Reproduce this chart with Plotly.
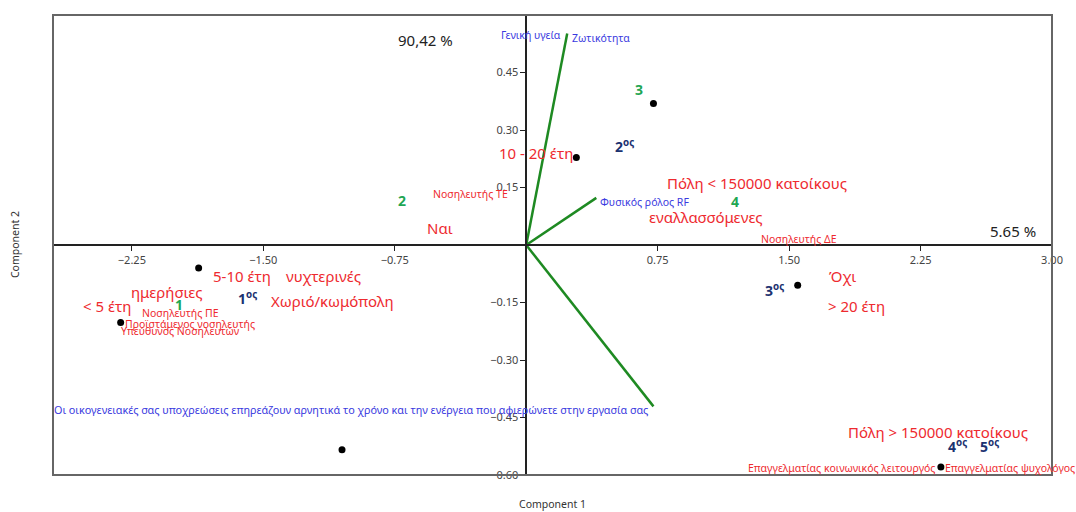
import plotly.graph_objects as go

# ---- data ----
score_x = [0.726, 0.286, -1.869, -2.314, -1.051, 1.549, 2.366]
score_y = [0.369, 0.228, -0.060, -0.202, -0.534, -0.105, -0.579]

vector_x = [0.234, 0.400, 0.726]
vector_y = [0.552, 0.123, -0.421]

blue_labels = ["Γενική υγεία", "Ζωτικότητα", "Φυσικός ρόλος RF",
               "Οι οικογενειακές σας υποχρεώσεις επηρεάζουν αρνητικά το χρόνο και την ενέργεια που αφιερώνετε στην εργασία σας"]
blue_x = [0.211, 0.251, 0.411, 0.709]
blue_y = [0.547, 0.539, 0.113, -0.429]
blue_anchor = ["right", "left", "left", "right"]
blue_size = [10.5, 10.5, 10.5, 10.8]

big_red = ["10 - 20 έτη", "Ναι", "Πόλη < 150000 κατοίκους", "εναλλασσόμενες", "5-10 έτη",
           "νυχτερινές", "ημερήσιες", "Χωριό/κωμόπολη", "< 5 έτη", "Όχι", "> 20 έτη",
           "Πόλη > 150000 κατοίκους"]
big_red_x = [0.054, -0.491, 1.314, 1.023, -1.623, -1.154, -2.051, -1.103, -2.394, 1.806, 1.886, 2.349]
big_red_y = [0.241, 0.045, 0.162, 0.073, -0.081, -0.081, -0.123, -0.147, -0.160, -0.081, -0.160, -0.487]

small_red = ["Νοσηλευτής ΤΕ", "Νοσηλευτής ΔΕ", "Νοσηλευτής ΠΕ", "Προϊστάμενος νοσηλευτής",
             "Υπεύθυνος Νοσηλευτών", "Επαγγελματίας κοινωνικός λειτουργός", "Επαγγελματίας ψυχολόγος"]
small_red_x = [-0.320, 1.554, -1.971, -1.920, -1.971, 1.800, 2.760]
small_red_y = [0.134, 0.016, -0.178, -0.207, -0.225, -0.581, -0.581]

cluster_labels = ["1", "2", "3", "4"]
cluster_x = [-1.983, -0.709, 0.646, 1.194]
cluster_y = [-0.154, 0.115, 0.406, 0.113]

rank_labels = ["1", "2", "3", "4", "5"]
rank_x = [-1.589, 0.560, 1.417, 2.463, 2.646]
rank_y = [-0.139, 0.257, -0.118, -0.524, -0.524]

pct_labels = ["90,42 %", "5.65 %"]
pct_x = [-0.577, 2.777]
pct_y = [0.534, 0.037]

x_ticks = [-2.25, -1.50, -0.75, 0.75, 1.50, 2.25, 3.00]
y_ticks = [0.45, 0.30, 0.15, -0.15, -0.30, -0.45, -0.60]
x_range = [-2.70, 3.00]
y_range = [-0.60, 0.60]

FONT = "Noto Sans"
RED = "#ee2a2f"
BLUE = "#3a3ae0"
GREEN_TXT = "#1fa653"
NAVY = "#1c3270"
LINE_GREEN = "#1e8a22"

fig = go.Figure()

vx, vy = [], []
for a, b in zip(vector_x, vector_y):
    vx += [0, a, None]
    vy += [0, b, None]
fig.add_trace(go.Scatter(x=vx, y=vy, mode="lines",
                         line=dict(color=LINE_GREEN, width=2.5), hoverinfo="skip"))

fig.add_trace(go.Scatter(x=score_x, y=score_y, mode="markers",
                         marker=dict(color="black", size=7), hoverinfo="skip"))

ann = []
for t, x, y, a, s in zip(blue_labels, blue_x, blue_y, blue_anchor, blue_size):
    ann.append(dict(x=x, y=y, text=t, xanchor=a, yanchor="middle",
                    font=dict(family=FONT, size=s, color=BLUE)))
for t, x, y in zip(big_red, big_red_x, big_red_y):
    ann.append(dict(x=x, y=y, text=t, xanchor="center", yanchor="middle",
                    font=dict(family=FONT, size=15, color=RED)))
for t, x, y in zip(small_red, small_red_x, small_red_y):
    ann.append(dict(x=x, y=y, text=t, xanchor="center", yanchor="middle",
                    font=dict(family=FONT, size=10.5, color=RED)))
for t, x, y in zip(cluster_labels, cluster_x, cluster_y):
    ann.append(dict(x=x, y=y, text="<b>" + t + "</b>", xanchor="center", yanchor="middle",
                    font=dict(family=FONT, size=14, color=GREEN_TXT)))
for t, x, y in zip(rank_labels, rank_x, rank_y):
    ann.append(dict(x=x, y=y, text="<b>" + t + "<sup>ος</sup></b>", xanchor="center", yanchor="middle",
                    font=dict(family=FONT, size=14, color=NAVY)))
for t, x, y in zip(pct_labels, pct_x, pct_y):
    ann.append(dict(x=x, y=y, text=t, xanchor="center", yanchor="middle",
                    font=dict(family=FONT, size=15, color="#222222")))
for a in ann:
    a.update(xref="x", yref="y", showarrow=False)

ann.append(dict(x=0.5, y=-0.064, xref="paper", yref="paper", text="Component 1",
                showarrow=False, yanchor="middle",
                font=dict(family=FONT, size=10.5, color="#333333")))
ann.append(dict(x=-0.038, y=0.5, xref="paper", yref="paper", text="Component 2",
                showarrow=False, textangle=-90, xanchor="center",
                font=dict(family=FONT, size=10.5, color="#333333")))

fig.update_layout(
    width=1076, height=512,
    margin=dict(l=53, r=24, t=15, b=37),
    plot_bgcolor="white", paper_bgcolor="white",
    showlegend=False,
    annotations=ann,
    font=dict(family=FONT),
    xaxis=dict(range=x_range, anchor="free", position=0.5, showgrid=False, zeroline=False,
               showline=True, linecolor="#222222", linewidth=1.5,
               ticks="outside", ticklen=5, tickcolor="#222222",
               tickvals=x_ticks, tickformat=".2f",
               tickfont=dict(family=FONT, size=11, color="#444444")),
    yaxis=dict(range=y_range, anchor="free", position=2.70 / 5.70, showgrid=False, zeroline=False,
               showline=True, linecolor="#222222", linewidth=1.5,
               ticks="outside", ticklen=5, tickcolor="#222222",
               tickvals=y_ticks, tickformat=".2f",
               tickfont=dict(family=FONT, size=11, color="#444444")),
    shapes=[dict(type="rect", xref="paper", yref="paper", x0=0, y0=0, x1=1, y1=1,
                 line=dict(color="#666666", width=2), layer="above")],
)

fig.write_html("out.html", config={"displayModeBar": False},
               post_script="document.body.style.margin='0';document.body.style.overflow='hidden';")
